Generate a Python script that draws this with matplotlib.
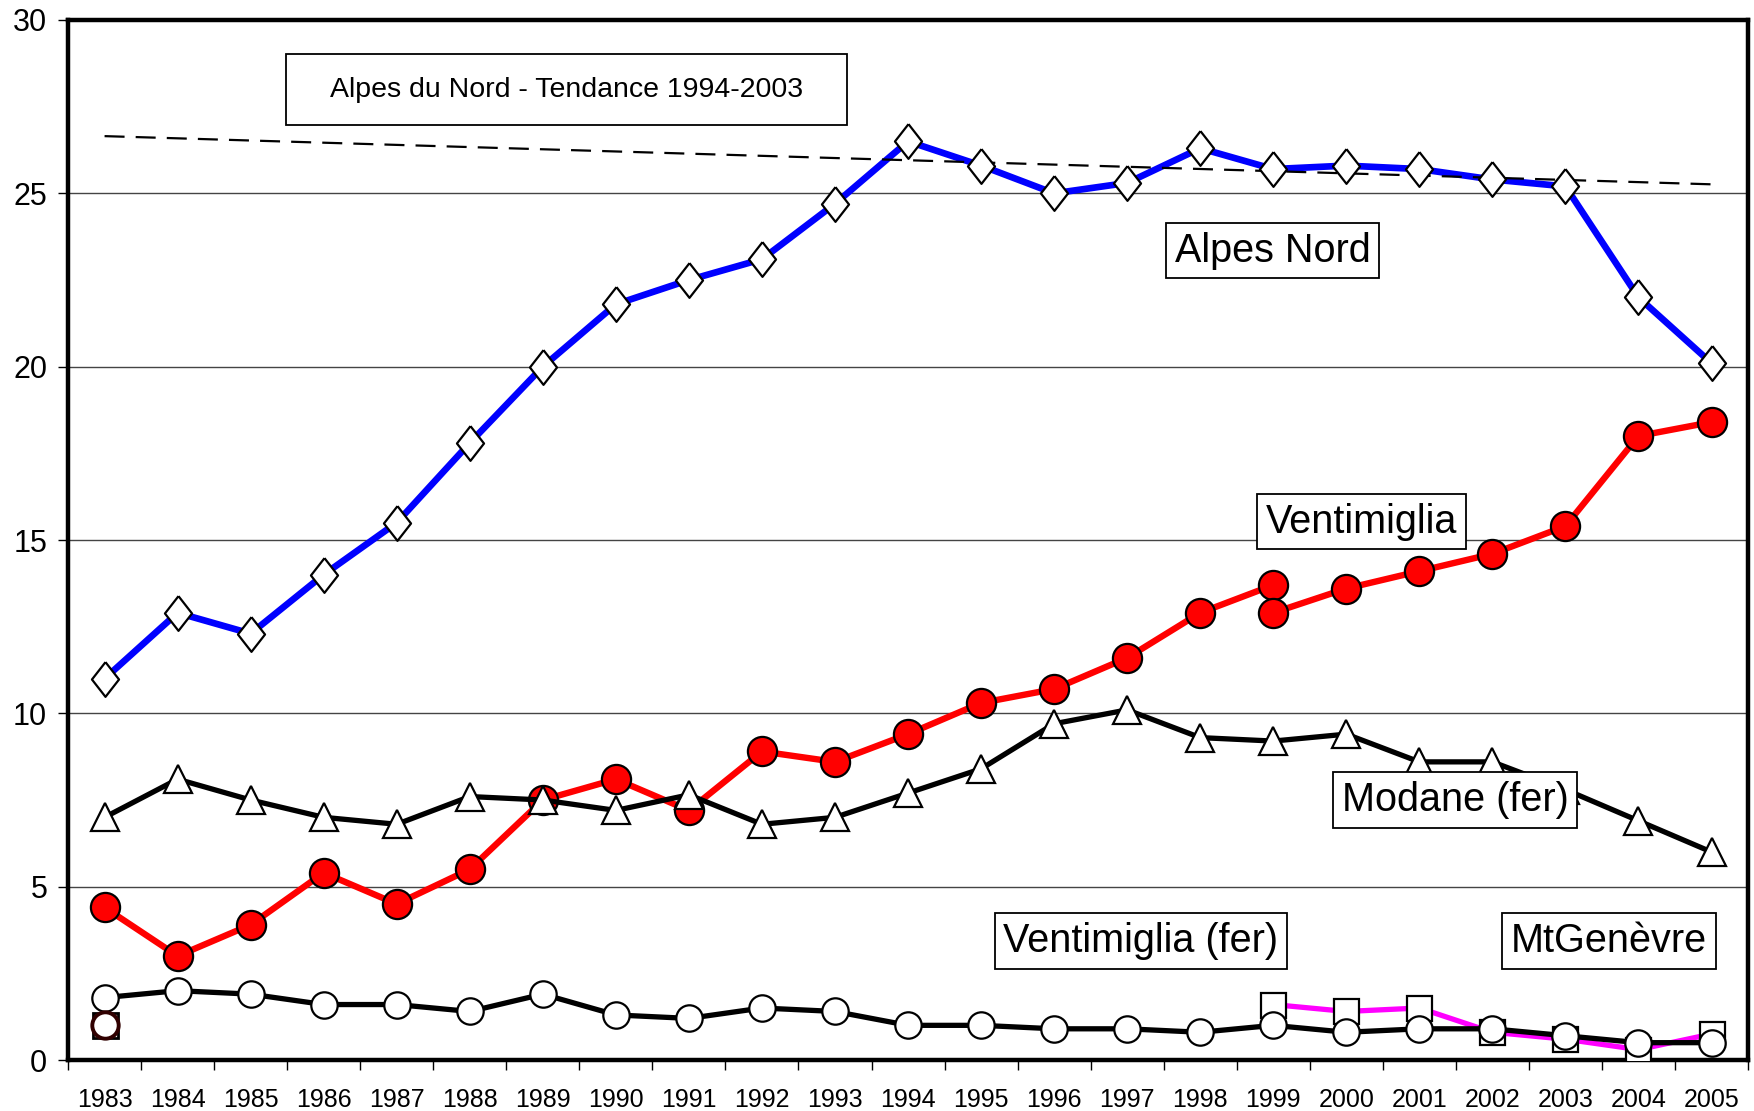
import matplotlib
matplotlib.use('Agg')
import matplotlib.pyplot as plt
from matplotlib.patches import Rectangle
import numpy as np

# années
years = list(range(1983, 2006))

alpes_nord = [11.0, 12.9, 12.3, 14.0, 15.5, 17.8, 20.0, 21.8, 22.5, 23.1, 24.7, 26.5,
              25.8, 25.0, 25.3, 26.3, 25.7, 25.8, 25.7, 25.4, 25.2, 22.0, 20.1]
# Ventimiglia : ancienne série jusqu'en 1999, nouvelle série à partir de 1999
vinti_old_years = list(range(1983, 2000))
vinti_old = [4.4, 3.0, 3.9, 5.4, 4.5, 5.5, 7.5, 8.1, 7.2, 8.9, 8.6, 9.4,
             10.3, 10.7, 11.6, 12.9, 13.7]
vinti_new_years = list(range(1999, 2006))
vinti_new = [12.9, 13.6, 14.1, 14.6, 15.4, 18.0, 18.4]
modane_fer = [7.0, 8.1, 7.5, 7.0, 6.8, 7.6, 7.5, 7.2, 7.65, 6.8, 7.0, 7.7,
              8.4, 9.7, 10.1, 9.3, 9.2, 9.4, 8.6, 8.6, 7.8, 6.9, 6.0]
vinti_fer = [1.8, 2.0, 1.9, 1.6, 1.6, 1.4, 1.9, 1.3, 1.2, 1.5, 1.4, 1.0,
             1.0, 0.9, 0.9, 0.8, 1.0, 0.8, 0.9, 0.9, 0.7, 0.5, 0.5]
mtgenevre_years = list(range(1999, 2006))
mtgenevre = [1.6, 1.4, 1.5, 0.8, 0.6, 0.3, 0.75]
# points isolés en 1983
extra_years = [1983]
extra_sq = [1.0]
extra_circ = [1.0]
# tendance 1994-2003 (extrémités)
trend_years = [1983, 2005]
trend_vals = [26.65, 25.26]

plt.rcParams['font.family'] = ['Liberation Sans', 'DejaVu Sans']

fig = plt.figure(figsize=(17.54, 11.11), dpi=100)
ax = fig.add_axes([0.0388, 0.0459, 0.9578, 0.9361])

diamond = [(0, 1), (0.78, 0), (0, -1), (-0.78, 0), (0, 1)]

# Ventimiglia (route)
ax.plot(vinti_old_years, vinti_old, color='red', lw=4.6, marker='o', ms=21,
        mfc='red', mec='black', mew=1.6, zorder=3)
ax.plot(vinti_new_years, vinti_new, color='red', lw=4.6, marker='o', ms=21,
        mfc='red', mec='black', mew=1.6, zorder=3)
# Modane (fer)
ax.plot(years, modane_fer, color='black', lw=3.8, marker='^', ms=20,
        mfc='white', mec='black', mew=1.6, zorder=4)
# MtGenèvre
ax.plot(mtgenevre_years, mtgenevre, color='magenta', lw=3.8, marker='s', ms=18,
        mfc='white', mec='black', mew=1.6, zorder=4)
ax.plot(extra_years, extra_sq, ls='none', marker='s', ms=18,
        mfc='white', mec='black', mew=2, zorder=4)
# Ventimiglia (fer)
ax.plot(years, vinti_fer, color='black', lw=3.8, marker='o', ms=19,
        mfc='white', mec='black', mew=1.6, zorder=5)
ax.plot(extra_years, extra_circ, ls='none', marker='o', ms=19,
        mfc='white', mec='#300000', mew=2.8, zorder=5)
# Alpes Nord
ax.plot(years, alpes_nord, color='blue', lw=4.8, zorder=6)
ax.plot(trend_years, trend_vals, color='black', lw=1.6, ls=(0, (9, 5)), zorder=7)
ax.plot(years, alpes_nord, ls='none', marker=diamond, ms=25,
        mfc='white', mec='black', mew=1.6, zorder=8)

ax.set_xlim(1982.5, 2005.5)
ax.set_ylim(0, 30)
ax.set_yticks(np.arange(0, 31, 5))
ax.set_xticks(years)
ax.set_xticks(np.arange(1982.5, 2006, 1), minor=True)
ax.tick_params(axis='x', which='major', length=0, labelsize=18, pad=20)
ax.tick_params(axis='x', which='minor', length=7, width=1, direction='out')
ax.tick_params(axis='y', length=7, width=1, labelsize=22, pad=8)
ax.grid(axis='y', color='#444444', lw=1)
ax.set_axisbelow(True)
for s in ax.spines.values():
    s.set_linewidth(3.2)
    s.set_color('black')

# étiquettes des séries
box = dict(boxstyle='square,pad=0.22', fc='white', ec='black', lw=1.3)
labels = [
    ('Alpes Nord', 1998.99, 23.35),
    ('Ventimiglia', 2000.21, 15.53),
    ('Modane (fer)', 2001.49, 7.5),
    ('Ventimiglia (fer)', 1997.19, 3.43),
    ('MtGenèvre', 2003.6, 3.43),
]
for txt, x, y in labels:
    ax.text(x, y, txt, fontsize=28.5, ha='center', va='center', bbox=box, zorder=10)

ax.add_patch(Rectangle((0.1298, 0.899), 0.3339, 0.068, transform=ax.transAxes,
                       fc='white', ec='black', lw=1.3, zorder=9))
ax.text(0.2967, 0.933, 'Alpes du Nord - Tendance 1994-2003', transform=ax.transAxes,
        fontsize=20.5, ha='center', va='center', zorder=10)

fig.savefig('out.png', dpi=100)
